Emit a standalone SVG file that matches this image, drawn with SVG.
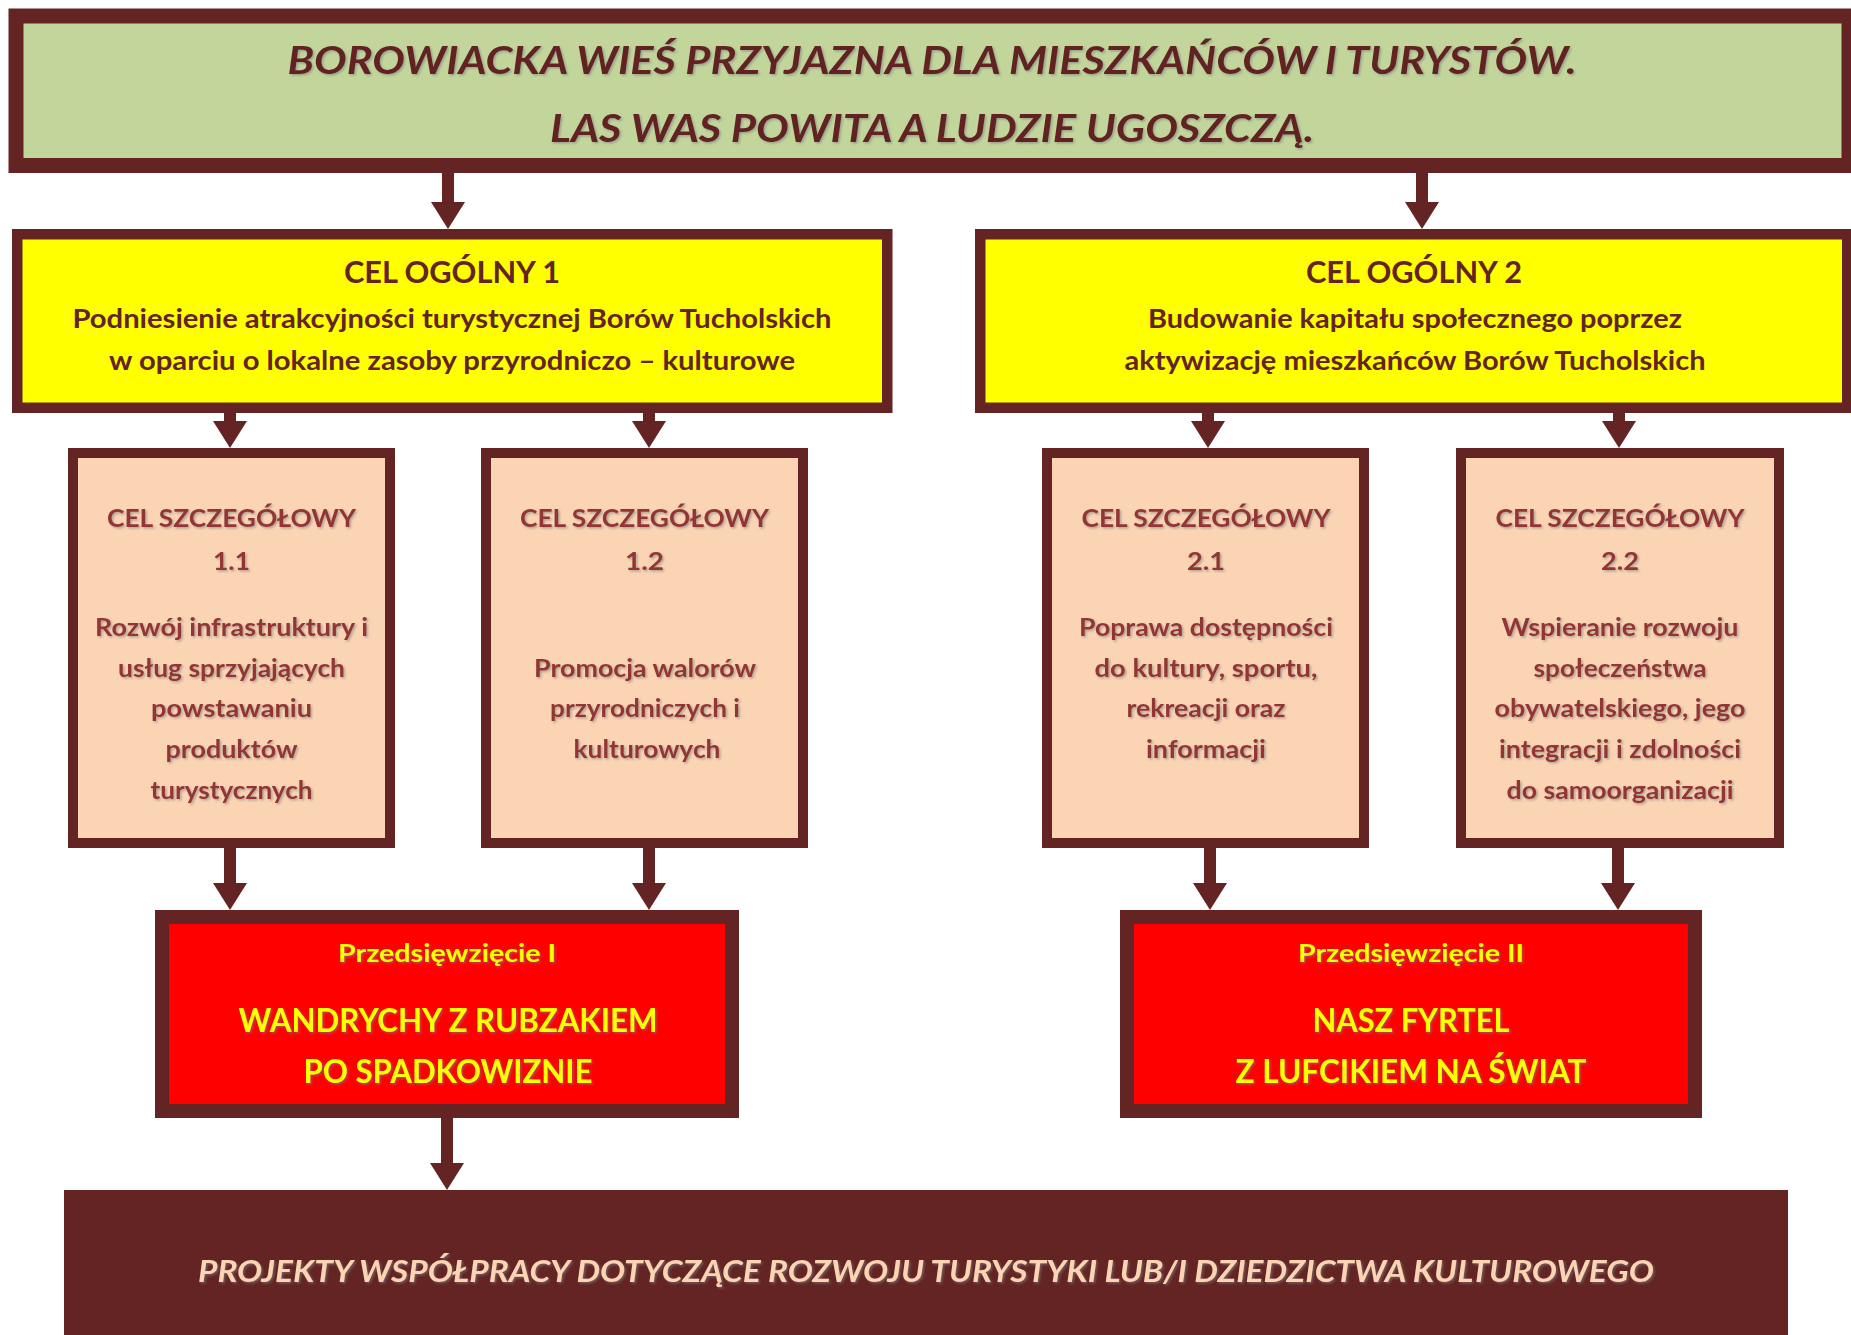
<svg xmlns="http://www.w3.org/2000/svg" width="1851" height="1335" viewBox="0 0 1851 1335">
<style>
text{font-family:Lato,"Liberation Sans",Arial,sans-serif;font-weight:bold;text-anchor:middle}
.title{font-size:38px;font-style:italic;fill:#632423}
.co{fill:#FFFF00;stroke:#632423;stroke-width:10.5}
.cot{font-size:31px;fill:#632423}
.cob{font-size:27px;fill:#632423}
.cs{fill:#FBD4B4;stroke:#632423;stroke-width:10}
.cst{font-size:25px;fill:#943634}
.csb{font-size:24px;fill:#943634}
.pr{fill:#FF0000;stroke:#632423;stroke-width:14}
.prs{font-size:25px;fill:#FFFF00}
.prt{font-size:32px;fill:#FFFF00}
.conn{stroke:#632423;stroke-width:12;fill:none}
.shd{filter:url(#sh)}
</style>
<defs>
<filter id="sh" x="-5%" y="-20%" width="110%" height="140%">
<feDropShadow dx="1.5" dy="1.5" stdDeviation="0.8" flood-color="#7f7f7f" flood-opacity="0.6"/>
</filter>
<marker id="ah" markerUnits="userSpaceOnUse" markerWidth="27" markerHeight="34" refX="7" refY="17" orient="auto" viewBox="0 0 27 34">
<path d="M0,0 L27,17 L0,34 Z" fill="#632423"/>
</marker>
</defs>

<g id="connectors">
<path class="conn" d="M448,173 V209" marker-end="url(#ah)"/>
<path class="conn" d="M1422,173 V209" marker-end="url(#ah)"/>
<path class="conn" d="M230,413 V428" marker-end="url(#ah)"/>
<path class="conn" d="M649,413 V428" marker-end="url(#ah)"/>
<path class="conn" d="M1208,413 V428" marker-end="url(#ah)"/>
<path class="conn" d="M1619,413 V428" marker-end="url(#ah)"/>
<path class="conn" d="M230,848 V890" marker-end="url(#ah)"/>
<path class="conn" d="M649,848 V890" marker-end="url(#ah)"/>
<path class="conn" d="M1210,848 V890" marker-end="url(#ah)"/>
<path class="conn" d="M1618,848 V890" marker-end="url(#ah)"/>
<path class="conn" d="M447,1118 V1170" marker-end="url(#ah)"/>
</g>

<g id="vision">
<rect x="16" y="16" width="1833" height="149.5" fill="#C2D69B" stroke="#632423" stroke-width="15"/>
<text class="title shd" x="932" y="74" textLength="1289" lengthAdjust="spacingAndGlyphs">BOROWIACKA WIEŚ PRZYJAZNA DLA MIESZKAŃCÓW I TURYSTÓW.</text>
<text class="title shd" x="932" y="142" textLength="764" lengthAdjust="spacingAndGlyphs">LAS WAS POWITA A LUDZIE UGOSZCZĄ.</text>
</g>

<g id="cel-ogolny-1">
<rect class="co" x="17.25" y="234.25" width="870" height="173.5"/>
<text class="cot" x="452" y="283" textLength="216" lengthAdjust="spacingAndGlyphs">CEL OGÓLNY 1</text>
<text class="cob" x="452" y="328" textLength="759" lengthAdjust="spacingAndGlyphs">Podniesienie atrakcyjności turystycznej Borów Tucholskich</text>
<text class="cob" x="452" y="370" textLength="686" lengthAdjust="spacingAndGlyphs">w oparciu o lokalne zasoby przyrodniczo – kulturowe</text>
</g>

<g id="cel-ogolny-2">
<rect class="co" x="980.25" y="234.25" width="867" height="173.5"/>
<text class="cot" x="1414" y="283" textLength="216" lengthAdjust="spacingAndGlyphs">CEL OGÓLNY 2</text>
<text class="cob" x="1415" y="328" textLength="534" lengthAdjust="spacingAndGlyphs">Budowanie kapitału społecznego poprzez</text>
<text class="cob" x="1415" y="370" textLength="581" lengthAdjust="spacingAndGlyphs">aktywizację mieszkańców Borów Tucholskich</text>
</g>

<g id="cel-szczegolowy-1-1">
<rect class="cs" x="73" y="453" width="317" height="390"/>
<text class="cst shd" x="231.5" y="527" textLength="249" lengthAdjust="spacingAndGlyphs">CEL SZCZEGÓŁOWY</text>
<text class="cst shd" x="231.5" y="570" textLength="37" lengthAdjust="spacingAndGlyphs">1.1</text>
<text class="csb shd" x="231.5" y="636" textLength="273" lengthAdjust="spacingAndGlyphs">Rozwój infrastruktury i</text>
<text class="csb shd" x="231.5" y="677" textLength="227" lengthAdjust="spacingAndGlyphs">usług sprzyjających</text>
<text class="csb shd" x="231.5" y="717" textLength="161" lengthAdjust="spacingAndGlyphs">powstawaniu</text>
<text class="csb shd" x="231.5" y="758" textLength="132" lengthAdjust="spacingAndGlyphs">produktów</text>
<text class="csb shd" x="231.5" y="799" textLength="162" lengthAdjust="spacingAndGlyphs">turystycznych</text>
</g>

<g id="cel-szczegolowy-1-2">
<rect class="cs" x="486" y="453" width="317" height="390"/>
<text class="cst shd" x="644.5" y="527" textLength="249" lengthAdjust="spacingAndGlyphs">CEL SZCZEGÓŁOWY</text>
<text class="cst shd" x="644.5" y="570" textLength="39" lengthAdjust="spacingAndGlyphs">1.2</text>
<text class="csb shd" x="645" y="677" textLength="222" lengthAdjust="spacingAndGlyphs">Promocja walorów</text>
<text class="csb shd" x="645" y="717" textLength="190" lengthAdjust="spacingAndGlyphs">przyrodniczych i</text>
<text class="csb shd" x="647" y="758" textLength="147" lengthAdjust="spacingAndGlyphs">kulturowych</text>
</g>

<g id="cel-szczegolowy-2-1">
<rect class="cs" x="1047" y="453" width="317" height="390"/>
<text class="cst shd" x="1206" y="527" textLength="249" lengthAdjust="spacingAndGlyphs">CEL SZCZEGÓŁOWY</text>
<text class="cst shd" x="1206" y="570" textLength="38" lengthAdjust="spacingAndGlyphs">2.1</text>
<text class="csb shd" x="1206" y="636" textLength="254" lengthAdjust="spacingAndGlyphs">Poprawa dostępności</text>
<text class="csb shd" x="1206" y="677" textLength="223" lengthAdjust="spacingAndGlyphs">do kultury, sportu,</text>
<text class="csb shd" x="1206" y="717" textLength="159" lengthAdjust="spacingAndGlyphs">rekreacji oraz</text>
<text class="csb shd" x="1206" y="758" textLength="120" lengthAdjust="spacingAndGlyphs">informacji</text>
</g>

<g id="cel-szczegolowy-2-2">
<rect class="cs" x="1461" y="453" width="318" height="390"/>
<text class="cst shd" x="1620" y="527" textLength="249" lengthAdjust="spacingAndGlyphs">CEL SZCZEGÓŁOWY</text>
<text class="cst shd" x="1620" y="570" textLength="38" lengthAdjust="spacingAndGlyphs">2.2</text>
<text class="csb shd" x="1620" y="636" textLength="237" lengthAdjust="spacingAndGlyphs">Wspieranie rozwoju</text>
<text class="csb shd" x="1620" y="677" textLength="173" lengthAdjust="spacingAndGlyphs">społeczeństwa</text>
<text class="csb shd" x="1620" y="717" textLength="251" lengthAdjust="spacingAndGlyphs">obywatelskiego, jego</text>
<text class="csb shd" x="1620" y="758" textLength="242" lengthAdjust="spacingAndGlyphs">integracji i zdolności</text>
<text class="csb shd" x="1620" y="799" textLength="227" lengthAdjust="spacingAndGlyphs">do samoorganizacji</text>
</g>

<g id="przedsiewziecie-1">
<rect class="pr" x="162" y="917" width="570" height="194"/>
<text class="prs shd" x="447" y="962" textLength="218" lengthAdjust="spacingAndGlyphs">Przedsięwzięcie I</text>
<text class="prt shd" x="448" y="1032" textLength="419" lengthAdjust="spacingAndGlyphs">WANDRYCHY Z RUBZAKIEM</text>
<text class="prt shd" x="448" y="1083" textLength="289" lengthAdjust="spacingAndGlyphs">PO SPADKOWIZNIE</text>
</g>

<g id="przedsiewziecie-2">
<rect class="pr" x="1127" y="917" width="568" height="194"/>
<text class="prs shd" x="1411" y="962" textLength="226" lengthAdjust="spacingAndGlyphs">Przedsięwzięcie II</text>
<text class="prt shd" x="1411" y="1032" textLength="197" lengthAdjust="spacingAndGlyphs">NASZ FYRTEL</text>
<text class="prt shd" x="1411" y="1083" textLength="351" lengthAdjust="spacingAndGlyphs">Z LUFCIKIEM NA ŚWIAT</text>
</g>

<g id="projekty-wspolpracy">
<rect x="64" y="1190" width="1724" height="160" fill="#632423"/>
<text class="shd" x="926" y="1282" font-size="31" font-style="italic" fill="#FBD4B4" textLength="1456" lengthAdjust="spacingAndGlyphs">PROJEKTY WSPÓŁPRACY DOTYCZĄCE ROZWOJU TURYSTYKI LUB/I DZIEDZICTWA KULTUROWEGO</text>
</g>
</svg>
